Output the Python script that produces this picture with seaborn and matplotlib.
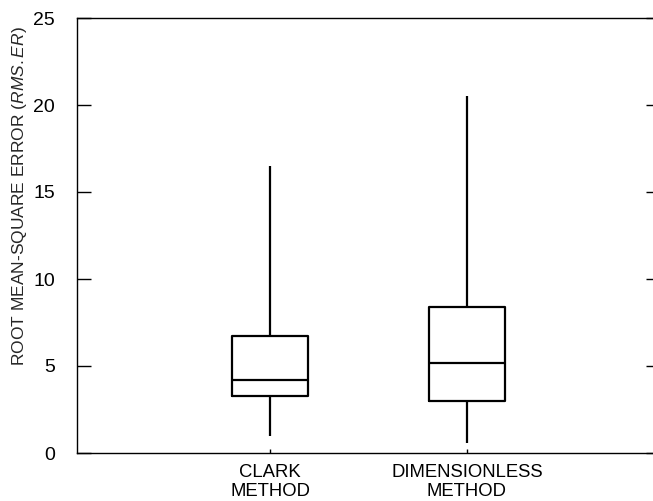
import numpy as np
import pandas as pd
import matplotlib
matplotlib.use("Agg")
import matplotlib.pyplot as plt
import seaborn as sns

# Five-number summaries of root-mean-square error for each method
methods = ["CLARK\nMETHOD", "DIMENSIONLESS\nMETHOD"]
rms_min = [1.0, 0.6]
rms_q1 = [3.3, 3.0]
rms_median = [4.2, 5.2]
rms_q3 = [6.7, 8.4]
rms_max = [16.5, 20.5]

y_ticks = [0, 5, 10, 15, 20, 25]

# Long-form table: five values per method reproduce the quartiles exactly
rows = []
for i, m in enumerate(methods):
    for v in (rms_min[i], rms_q1[i], rms_median[i], rms_q3[i], rms_max[i]):
        rows.append({"method": m, "rmse": v})
df = pd.DataFrame(rows)

sns.set_theme(style="white")
plt.rcParams["font.family"] = ["Liberation Sans", "DejaVu Sans"]
plt.rcParams["mathtext.fontset"] = "custom"
plt.rcParams["mathtext.rm"] = "Liberation Sans"
plt.rcParams["mathtext.it"] = "Liberation Sans:italic"

fig = plt.figure(figsize=(6.53, 5.01), dpi=100)
ax = fig.add_axes([77 / 653, 1 - 453 / 501, (660 - 77) / 653, (453 - 18) / 501])

sns.boxplot(
    data=df, x="method", y="rmse", order=methods,
    whis=(0, 100), width=0.39, fill=False, color="black",
    linewidth=1.6, showcaps=False, ax=ax,
)

ax.set_xlim(-0.98, 1.98)
ax.set_ylim(0, 25)
ax.set_yticks(y_ticks)
ax.set_xlabel("")
ax.set_ylabel(r"ROOT MEAN-SQUARE ERROR ($\mathit{RMS.ER}$)", fontsize=12.5)
ax.yaxis.set_label_coords(-0.083, 0.59)

for side in ("left", "top", "bottom"):
    ax.spines[side].set_visible(True)
    ax.spines[side].set_color("black")
    ax.spines[side].set_linewidth(1.0)
ax.spines["right"].set_visible(False)

ax.tick_params(axis="y", which="both", direction="in", length=10, width=1.0,
               left=True, right=True, labelsize=14, pad=16, colors="black")
ax.tick_params(axis="x", direction="in", length=3, width=1.0, bottom=True,
               labelsize=13.3, pad=8, colors="black")
for lbl in ax.get_xticklabels():
    lbl.set_linespacing(1.12)

fig.savefig("out.png", dpi=100, facecolor="white")
